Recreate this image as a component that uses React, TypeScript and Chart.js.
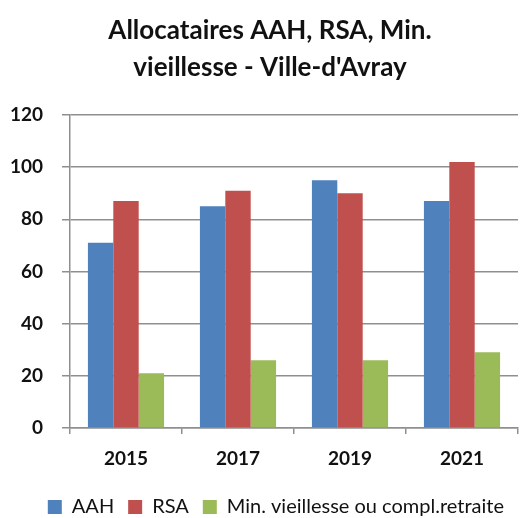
import React, { useEffect, useRef } from "react";
import { Chart, registerables } from "chart.js";

Chart.register(...registerables);

const titleLines = ["Allocataires AAH, RSA, Min.", "vieillesse - Ville-d'Avray"];
const years = ["2015", "2017", "2019", "2021"];
const aah = [71, 85, 95, 87];
const rsa = [87, 91, 90, 102];
const minVieillesse = [21, 26, 26, 29];
const seriesNames = ["AAH", "RSA", "Min. vieillesse ou compl.retraite"];
const seriesColors = ["#4F81BD", "#C0504D", "#9BBB59"];
const yMin = 0;
const yMax = 120;
const yStep = 20;

const FONT = "Lato, 'Open Sans', sans-serif";
const GRID = "#8f8f8f";
const TEXT = "#111111";

const shiftTitle = {
  id: "shiftTitle",
  afterLayout(chart: any) {
    const t = chart.titleBlock;
    if (t) t.left += 22;
  },
};

export default function App() {
  const ref = useRef<HTMLCanvasElement | null>(null);

  useEffect(() => {
    document.body.style.margin = "0";
    const canvas = ref.current;
    if (!canvas) return;
    const chart = new Chart(canvas, {
      type: "bar",
      data: {
        labels: years,
        datasets: [aah, rsa, minVieillesse].map((d, i) => ({
          label: seriesNames[i],
          data: d,
          backgroundColor: seriesColors[i],
          borderWidth: 0,
          categoryPercentage: 0.68,
          barPercentage: 1,
        })),
      },
      plugins: [shiftTitle],
      options: {
        responsive: false,
        animation: false,
        devicePixelRatio: 1,
        layout: { padding: { left: 0, right: 2, top: 0, bottom: -9 } },
        plugins: {
          title: {
            display: true,
            text: titleLines,
            color: TEXT,
            font: { family: FONT, size: 26, weight: "bold", lineHeight: "37px" },
            padding: { top: 12, bottom: 29 },
          },
          legend: {
            display: true,
            position: "bottom",
            align: "end",
            labels: {
              color: TEXT,
              font: { family: FONT, size: 20, lineHeight: 1 },
              boxWidth: 14,
              boxHeight: 14,
              padding: 14,
            },
          },
          tooltip: { enabled: false },
        },
        scales: {
          x: {
            grid: {
              display: true,
              drawOnChartArea: false,
              drawTicks: true,
              tickLength: 6,
              tickColor: GRID,
              lineWidth: 1.5,
              color: GRID,
              offset: true,
            },
            border: { display: true, color: GRID, width: 1.5 },
            ticks: {
              color: TEXT,
              font: { family: FONT, size: 19, weight: "bold" },
              padding: 13,
            },
            afterFit: (scale: any) => {
              scale.height = 55;
            },
          },
          y: {
            min: yMin,
            max: yMax,
            ticks: {
              stepSize: yStep,
              color: TEXT,
              font: { family: FONT, size: 19, weight: "bold" },
              padding: 19,
            },
            grid: {
              color: GRID,
              lineWidth: 1.5,
              tickLength: 8,
              tickColor: GRID,
            },
            border: { display: true, color: GRID, width: 1.5 },
            afterFit: (scale: any) => {
              scale.width = 70;
            },
          },
        },
      },
    });
    return () => chart.destroy();
  }, []);

  return (
    <div style={{ width: 520, height: 518 }}>
      <canvas ref={ref} width={520} height={518} />
    </div>
  );
}
